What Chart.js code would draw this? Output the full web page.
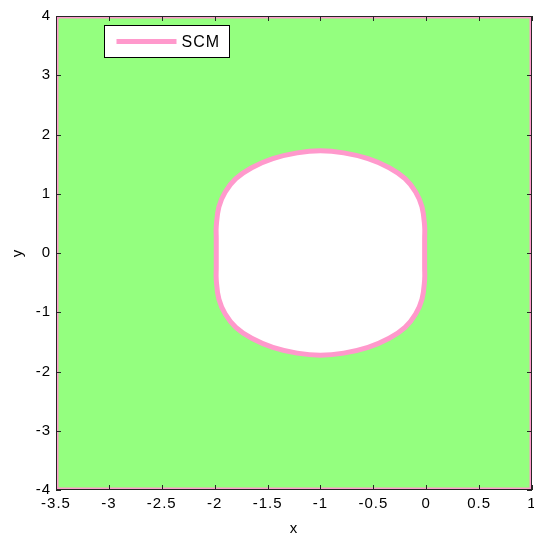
<!DOCTYPE html>
<html>
<head>
<meta charset="utf-8">
<script src="https://cdn.jsdelivr.net/npm/chart.js@4.4.1/dist/chart.umd.min.js"></script>
<style>
  html, body { margin: 0; padding: 0; background: #ffffff; }
  #wrap { width: 534px; height: 538px; }
</style>
</head>
<body>
<div id="wrap"><canvas id="c" width="534" height="538"></canvas></div>
<script>
// ---- data ----
const seriesName = 'SCM';
// closed boundary curve of the white region (x, y), counter-clockwise
const curveX = [-0.015, -0.015, -0.015, -0.040, -0.100, -0.200, -0.350, -0.550, -0.780, -1.000, -1.220, -1.450, -1.650, -1.800, -1.900, -1.960, -1.985, -1.985, -1.985, -1.985, -1.985, -1.960, -1.900, -1.800, -1.650, -1.450, -1.220, -1.000, -0.780, -0.550, -0.350, -0.200, -0.100, -0.040, -0.015, -0.015, -0.015];
const curveY = [ 0.000,  0.250,  0.450,  0.780,  1.030,  1.255,  1.440,  1.593,  1.690,  1.725,  1.690,  1.593,  1.440,  1.255,  1.030,  0.780,  0.450,  0.250,  0.000, -0.250, -0.450, -0.780, -1.030, -1.255, -1.440, -1.593, -1.690, -1.725, -1.690, -1.593, -1.440, -1.255, -1.030, -0.780, -0.450, -0.250,  0.000];
// outer boundary of the plotted (green) region
const regionX = [-3.5, 1, 1, -3.5, -3.5];
const regionY = [-4, -4, 4, 4, -4];
// axis ticks
const xTicks = [-3.5, -3, -2.5, -2, -1.5, -1, -0.5, 0, 0.5, 1];
const xTickLabels = ['-3.5', '-3', '-2.5', '-2', '-1.5', '-1', '-0.5', '0', '0.5', '1'];
const yTicks = [-4, -3, -2, -1, 0, 1, 2, 3, 4];
const yTickLabels = ['-4', '-3', '-2', '-1', '0', '1', '2', '3', '4'];

const PINK = '#ff99cc';
const GREEN = '#94ff7f';
const FONT = "'Liberation Sans', Arial, sans-serif";

const toPts = (xs, ys) => xs.map((x, i) => ({ x: x, y: ys[i] }));

const spacingPlugin = {
  id: 'spacing',
  beforeLayout(chart) { chart.ctx.letterSpacing = '1px'; },
  beforeDraw(chart) { chart.ctx.letterSpacing = '1px'; }
};

const framePlugin = {
  id: 'frame',
  afterDatasetsDraw(chart) {
    const { ctx, chartArea: a, scales: { x, y } } = chart;
    ctx.save();
    ctx.strokeStyle = '#262626';
    ctx.lineWidth = 1;
    ctx.beginPath();
    const L = 5;
    xTicks.forEach(v => {
      const px = Math.round(x.getPixelForValue(v)) + 0.5;
      ctx.moveTo(px, a.bottom); ctx.lineTo(px, a.bottom - L);
      ctx.moveTo(px, a.top); ctx.lineTo(px, a.top + L);
    });
    yTicks.forEach(v => {
      const py = Math.round(y.getPixelForValue(v)) + 0.5;
      ctx.moveTo(a.left, py); ctx.lineTo(a.left + L, py);
      ctx.moveTo(a.right, py); ctx.lineTo(a.right - L, py);
    });
    ctx.stroke();
    ctx.strokeRect(a.left + 0.5, a.top + 0.5, a.right - a.left - 1, a.bottom - a.top - 1);
    ctx.restore();
  }
};

const legendPlugin = {
  id: 'boxLegend',
  afterDraw(chart) {
    const { ctx, chartArea: a } = chart;
    const ds = chart.data.datasets[0];
    ctx.save();
    ctx.letterSpacing = '1px';
    ctx.font = '16px ' + FONT;
    const tw = ctx.measureText(ds.label).width;
    const bx = a.left + 48.5, by = a.top + 9.5;
    const lineLen = 60, padL = 12, gap = 5, padR = 9;
    const bw = Math.round(padL + lineLen + gap + tw + padR), bh = 32;
    ctx.fillStyle = '#ffffff';
    ctx.fillRect(bx, by, bw, bh);
    ctx.strokeStyle = '#000000';
    ctx.lineWidth = 1;
    ctx.strokeRect(bx, by, bw, bh);
    const cy = by + bh / 2;
    ctx.strokeStyle = ds.borderColor;
    ctx.lineWidth = 5;
    ctx.beginPath();
    ctx.moveTo(bx + padL, cy);
    ctx.lineTo(bx + padL + lineLen, cy);
    ctx.stroke();
    ctx.fillStyle = '#000000';
    ctx.textBaseline = 'middle';
    ctx.textAlign = 'left';
    ctx.fillText(ds.label, bx + padL + lineLen + gap, cy + 1);
    ctx.restore();
  }
};

new Chart(document.getElementById('c'), {
  type: 'scatter',
  data: {
    datasets: [
      {
        label: seriesName,
        data: toPts(curveX, curveY),
        showLine: true,
        fill: 'shape',
        backgroundColor: '#ffffff',
        borderColor: PINK,
        borderWidth: 5,
        pointRadius: 0,
        tension: 0.4
      },
      {
        label: 'region',
        data: toPts(regionX, regionY),
        showLine: true,
        fill: 'shape',
        backgroundColor: GREEN,
        borderColor: PINK,
        borderWidth: 5,
        pointRadius: 0,
        tension: 0,
        clip: 0
      }
    ]
  },
  options: {
    responsive: false,
    animation: false,
    events: [],
    layout: { padding: { top: 16, right: 2, left: 0, bottom: 0 } },
    plugins: {
      legend: { display: false },
      tooltip: { enabled: false }
    },
    scales: {
      x: {
        type: 'linear',
        min: -3.5, max: 1,
        afterBuildTicks: s => { s.ticks = xTicks.map(v => ({ value: v })); },
        afterFit: s => { s.height = 48; s.paddingLeft = 0; s.paddingRight = 0; },
        grid: { display: false, drawTicks: false },
        border: { display: false },
        ticks: {
          color: '#000000',
          font: { family: FONT, size: 15 },
          padding: 5,
          maxRotation: 0,
          autoSkip: false,
          callback: (v) => { const i = xTicks.indexOf(v); return i >= 0 ? xTickLabels[i] : ''; }
        },
        title: { display: true, text: 'x', color: '#000000', font: { family: FONT, size: 15 }, padding: { top: 0, bottom: 0 } }
      },
      y: {
        type: 'linear',
        min: -4, max: 4,
        afterBuildTicks: s => { s.ticks = yTicks.map(v => ({ value: v })); },
        afterFit: s => { s.width = 56; s.paddingTop = 0; s.paddingBottom = 0; },
        grid: { display: false, drawTicks: false },
        border: { display: false },
        ticks: {
          color: '#000000',
          font: { family: FONT, size: 15 },
          padding: 5,
          autoSkip: false,
          callback: (v) => { const i = yTicks.indexOf(v); return i >= 0 ? yTickLabels[i] : ''; }
        },
        title: { display: true, text: 'y', color: '#000000', font: { family: FONT, size: 15 }, padding: { top: 9, bottom: 0 } }
      }
    }
  },
  plugins: [spacingPlugin, framePlugin, legendPlugin]
});
</script>
</body>
</html>
